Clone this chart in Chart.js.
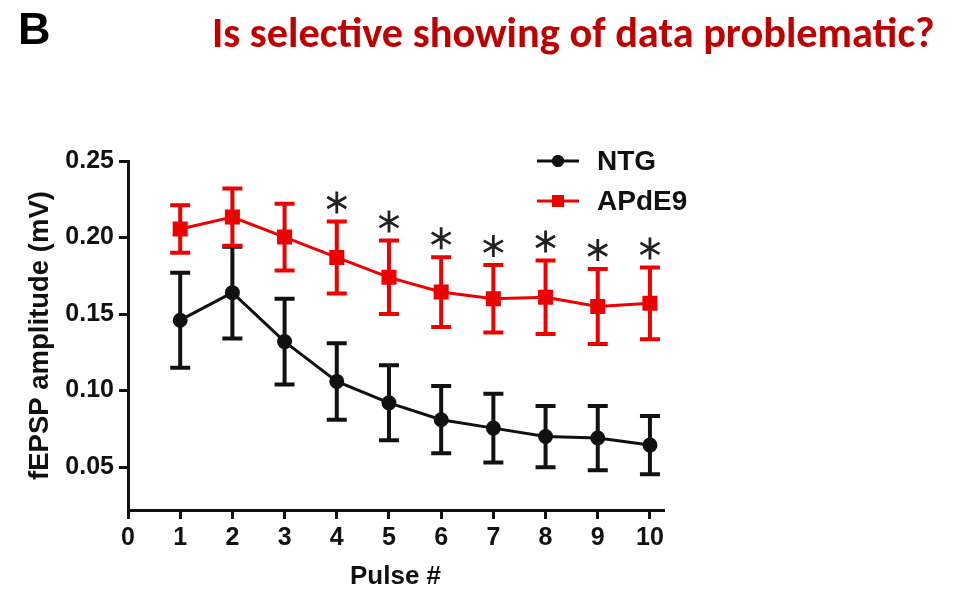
<!DOCTYPE html>
<html>
<head>
<meta charset="utf-8">
<script src="https://cdn.jsdelivr.net/npm/chart.js@4.4.1/dist/chart.umd.min.js"></script>
<style>
  body { margin: 0; background: #fff; }
  #wrap { position: relative; width: 953px; height: 593px; overflow: hidden; }
  #panel { position: absolute; left: 18px; top: 3px; font: bold 45px "Liberation Sans", Arial, sans-serif; color: #000; }
  #headline { position: absolute; left: 212px; top: 7px; font: bold 42px Carlito, "Liberation Sans Narrow", "Liberation Sans", sans-serif;
              color: #c00000; white-space: nowrap; transform-origin: 0 0; }
  canvas { position: absolute; left: 0; top: 0; }
</style>
</head>
<body>
<div id="wrap">
  <canvas id="fepsp" width="953" height="593"></canvas>
  <div id="panel">B</div>
  <div id="headline">Is selective showing of data problematic?</div>
</div>
<script>
const pulses = [1, 2, 3, 4, 5, 6, 7, 8, 9, 10];
const ntgMean = [0.146, 0.164, 0.132, 0.106, 0.092, 0.081, 0.0755, 0.070, 0.069, 0.0644];
const ntgErr = [0.031, 0.030, 0.028, 0.025, 0.0245, 0.022, 0.0225, 0.020, 0.021, 0.019];
const apMean = [0.2056, 0.2134, 0.2003, 0.187, 0.174, 0.1644, 0.160, 0.161, 0.155, 0.157];
const apErr = [0.0155, 0.0187, 0.0218, 0.0235, 0.024, 0.0228, 0.022, 0.024, 0.0245, 0.0235];
const sigPulses = [4, 5, 6, 7, 8, 9, 10];
const xTicks = [0, 1, 2, 3, 4, 5, 6, 7, 8, 9, 10];
const yTicks = [0.05, 0.10, 0.15, 0.20, 0.25];

const INK = '#111';
const RED = '#ee0000';
const FONT = '"Liberation Sans", Arial, sans-serif';

// fit the headline to the width it has in the figure
const head = document.getElementById('headline');
head.style.transform = `scaleX(${723 / head.offsetWidth})`;

const toPoints = (ys) => pulses.map((p, i) => ({ x: p, y: ys[i] }));

const errorBars = {
  id: 'errorBars',
  afterDatasetDraw(chart, args) {
    const ds = chart.data.datasets[args.index];
    const { x, y } = chart.scales;
    const ctx = chart.ctx;
    ctx.save();
    ctx.strokeStyle = ds.borderColor;
    ctx.lineWidth = 4;
    ds.data.forEach((p, i) => {
      const px = x.getPixelForValue(p.x);
      const top = y.getPixelForValue(p.y + ds.errors[i]);
      const bot = y.getPixelForValue(p.y - ds.errors[i]);
      ctx.beginPath();
      ctx.moveTo(px, top); ctx.lineTo(px, bot);
      ctx.moveTo(px - 10, top); ctx.lineTo(px + 10, top);
      ctx.moveTo(px - 10, bot); ctx.lineTo(px + 10, bot);
      ctx.stroke();
    });
    ctx.restore();
  }
};

const extras = {
  id: 'extras',
  afterDraw(chart) {
    const ctx = chart.ctx;
    const { x, y } = chart.scales;
    // significance stars over the APdE9 bars
    ctx.save();
    ctx.strokeStyle = '#222';
    ctx.lineWidth = 2.8;
    sigPulses.forEach(p => {
      const i = pulses.indexOf(p);
      const cx = x.getPixelForValue(p);
      const cy = y.getPixelForValue(apMean[i] + apErr[i]) - 19;
      const r = 11;
      ctx.beginPath();
      [90, 30, 150].forEach(a => {
        const dx = Math.cos(a * Math.PI / 180) * r, dy = Math.sin(a * Math.PI / 180) * r;
        ctx.moveTo(cx - dx, cy - dy); ctx.lineTo(cx + dx, cy + dy);
      });
      ctx.stroke();
    });
    ctx.restore();

    // legend
    const rows = [161, 201];
    ctx.save();
    ctx.font = `bold 28px ${FONT}`;
    ctx.textBaseline = 'middle';
    chart.data.datasets.slice().sort((a, b) => a.legendRank - b.legendRank).forEach((ds, k) => {
      const ly = rows[k];
      ctx.strokeStyle = ds.borderColor;
      ctx.fillStyle = ds.backgroundColor;
      ctx.lineWidth = 3;
      ctx.beginPath(); ctx.moveTo(537, ly); ctx.lineTo(579, ly); ctx.stroke();
      Chart.helpers.drawPoint(ctx, { pointStyle: ds.pointStyle, radius: ds.pointRadius, rotation: 0, borderWidth: 0 }, 558, ly);
      ctx.fill();
      ctx.fillStyle = INK;
      ctx.fillText(ds.label, 597, ly + 1);
    });
    ctx.restore();
  }
};

new Chart(document.getElementById('fepsp'), {
  type: 'line',
  data: {
    datasets: [
      {
        label: 'NTG', legendRank: 0, order: 1,
        data: toPoints(ntgMean), errors: ntgErr,
        borderColor: INK, backgroundColor: INK, borderWidth: 3,
        pointStyle: 'circle', pointRadius: 6, tension: 0
      },
      {
        label: 'APdE9', legendRank: 1, order: 0,
        data: toPoints(apMean), errors: apErr,
        borderColor: RED, backgroundColor: RED, borderWidth: 3,
        pointStyle: 'rect', pointRadius: 8.5, tension: 0
      }
    ]
  },
  options: {
    responsive: false,
    animation: false,
    layout: { padding: { left: 0, top: 161, right: 290, bottom: 0 } },
    plugins: { legend: { display: false }, tooltip: { enabled: false } },
    scales: {
      x: {
        type: 'linear', min: 0, max: 10.25,
        afterBuildTicks: s => { s.ticks = xTicks.map(v => ({ value: v })); },
        afterFit: s => { s.height = 83; },
        grid: { drawOnChartArea: false, drawTicks: true, tickLength: 9, color: INK, lineWidth: 3 },
        border: { color: INK, width: 3 },
        ticks: { color: INK, font: { family: FONT, size: 25, weight: 'bold' }, padding: 4, maxRotation: 0 },
        title: { display: true, text: 'Pulse #', color: INK, font: { family: FONT, size: 26, weight: 'bold' }, padding: { top: 0, bottom: 1 } }
      },
      y: {
        min: 0.022, max: 0.25,
        afterBuildTicks: s => { s.ticks = yTicks.map(v => ({ value: v })); },
        afterFit: s => { s.width = 128; },
        grid: { drawOnChartArea: false, drawTicks: true, tickLength: 9, color: INK, lineWidth: 3 },
        border: { color: INK, width: 3 },
        ticks: { color: INK, font: { family: FONT, size: 25, weight: 'bold' }, padding: 5, callback: v => v.toFixed(2) },
        title: { display: true, text: 'fEPSP amplitude (mV)', color: INK, font: { family: FONT, size: 27.5, weight: 'bold' }, padding: { top: 24, bottom: 0 } }
      }
    }
  },
  plugins: [errorBars, extras]
});
</script>
</body>
</html>
